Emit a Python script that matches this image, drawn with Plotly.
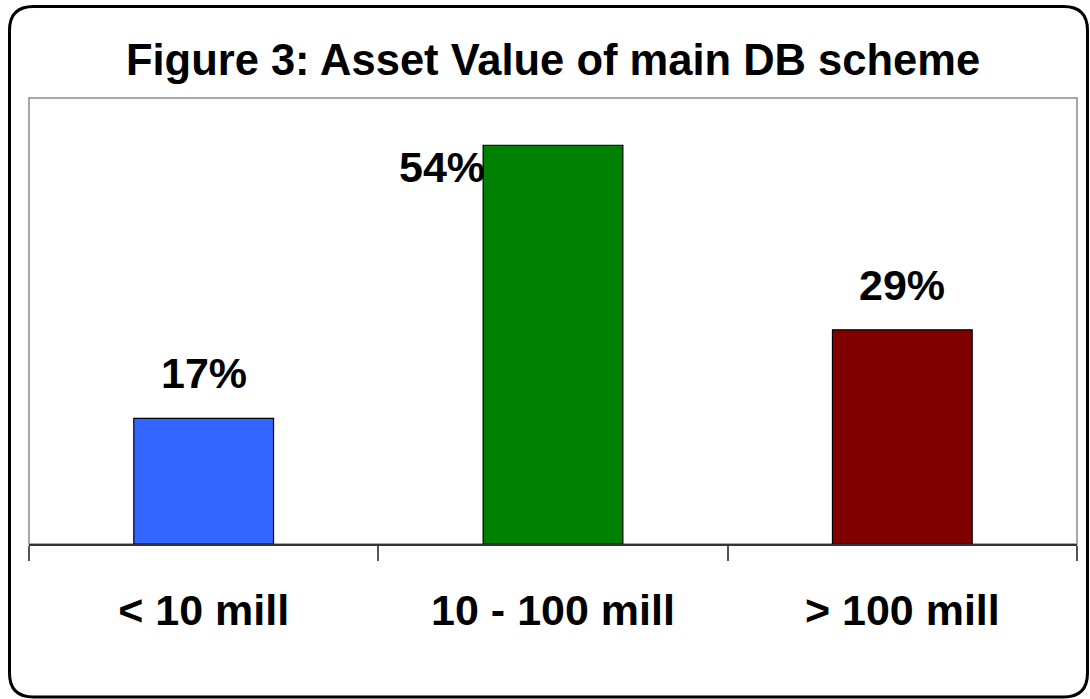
"""Bar chart: Asset Value of main DB scheme (Figure 3)."""

import plotly.graph_objects as go

# Data
categories = ["< 10 mill", "10 - 100 mill", "> 100 mill"]
shares = [17, 54, 29]
bar_colors = ["#3366FF", "#008000", "#800000"]

# Label offsets (px) for each value label; the 54% label sits left of its bar
label_xshift = [0, -111, 0]
label_yshift = [19, -22, 19]
label_yanchor = ["bottom", "middle", "bottom"]

FONT = "Liberation Sans, Arial, sans-serif"
W, H = 1090, 699
L, R, T, B = 29, 13, 98, 155


def px_to_paper(px, py):
    """Convert a pixel position on the page to paper coordinates."""
    return (px - L) / (W - L - R), (H - B - py) / (H - T - B)


def rounded_rect_path(x0, y0, x1, y1, r):
    pts = []
    cmds = [
        ("M", [(x0 + r, y0)]),
        ("L", [(x1 - r, y0)]),
        ("Q", [(x1, y0), (x1, y0 + r)]),
        ("L", [(x1, y1 - r)]),
        ("Q", [(x1, y1), (x1 - r, y1)]),
        ("L", [(x0 + r, y1)]),
        ("Q", [(x0, y1), (x0, y1 - r)]),
        ("L", [(x0, y0 + r)]),
        ("Q", [(x0, y0), (x0 + r, y0)]),
    ]
    for cmd, coords in cmds:
        conv = [px_to_paper(x, y) for x, y in coords]
        pts.append(cmd + " " + " ".join(f"{a:.5f},{b:.5f}" for a, b in conv))
    return " ".join(pts) + " Z"


fig = go.Figure(
    go.Bar(
        x=categories,
        y=shares,
        width=0.4,
        marker=dict(color=bar_colors, line=dict(color="#000000", width=1.2)),
        hoverinfo="skip",
    )
)

for cat, val, dx, dy, ya in zip(categories, shares, label_xshift, label_yshift, label_yanchor):
    fig.add_annotation(
        x=cat,
        y=val,
        text=f"<b>{val}%</b>",
        showarrow=False,
        xshift=dx,
        yshift=dy,
        yanchor=ya,
        font=dict(family=FONT, size=43, color="#000000"),
    )

# gray plot-area frame
fig.add_shape(
    type="rect", xref="paper", yref="paper", x0=0, x1=1, y0=0, y1=1,
    line=dict(color="#8c8c8c", width=1.5), layer="below",
)
# rounded outer border of the chart
fig.add_shape(
    type="path", xref="paper", yref="paper",
    path=rounded_rect_path(9.5, 6.5, 1087.5, 697, 24),
    line=dict(color="#000000", width=3),
)

fig.update_layout(
    width=W,
    height=H,
    margin=dict(l=L, r=R, t=T, b=B),
    paper_bgcolor="#ffffff",
    plot_bgcolor="#ffffff",
    showlegend=False,
    title=dict(
        text="<b>Figure 3: Asset Value of main DB scheme</b>",
        x=0.5,
        xref="paper",
        y=1 - 60 / H,
        yref="container",
        yanchor="middle",
        font=dict(family=FONT, size=43.5, color="#000000"),
    ),
    xaxis=dict(
        type="category",
        range=[-0.5, 2.5],
        showline=True,
        linecolor="#333333",
        linewidth=1.5,
        ticks="outside",
        tickson="boundaries",
        ticklen=15,
        tickcolor="#555555",
        tickwidth=1.5,
        ticklabelstandoff=28,
        tickfont=dict(family=FONT, size=43, color="#000000"),
        showgrid=False,
        zeroline=False,
        fixedrange=True,
    ),
    yaxis=dict(
        range=[0, 60.4],
        visible=False,
        showgrid=False,
        zeroline=False,
        fixedrange=True,
    ),
)
fig.update_xaxes(tickprefix="<b>", ticksuffix="</b>")

# drop the default page margin so the figure fills the window
fig.write_html(
    "out.html",
    config={"displayModeBar": False},
    post_script="document.body.style.margin = '0';",
)
